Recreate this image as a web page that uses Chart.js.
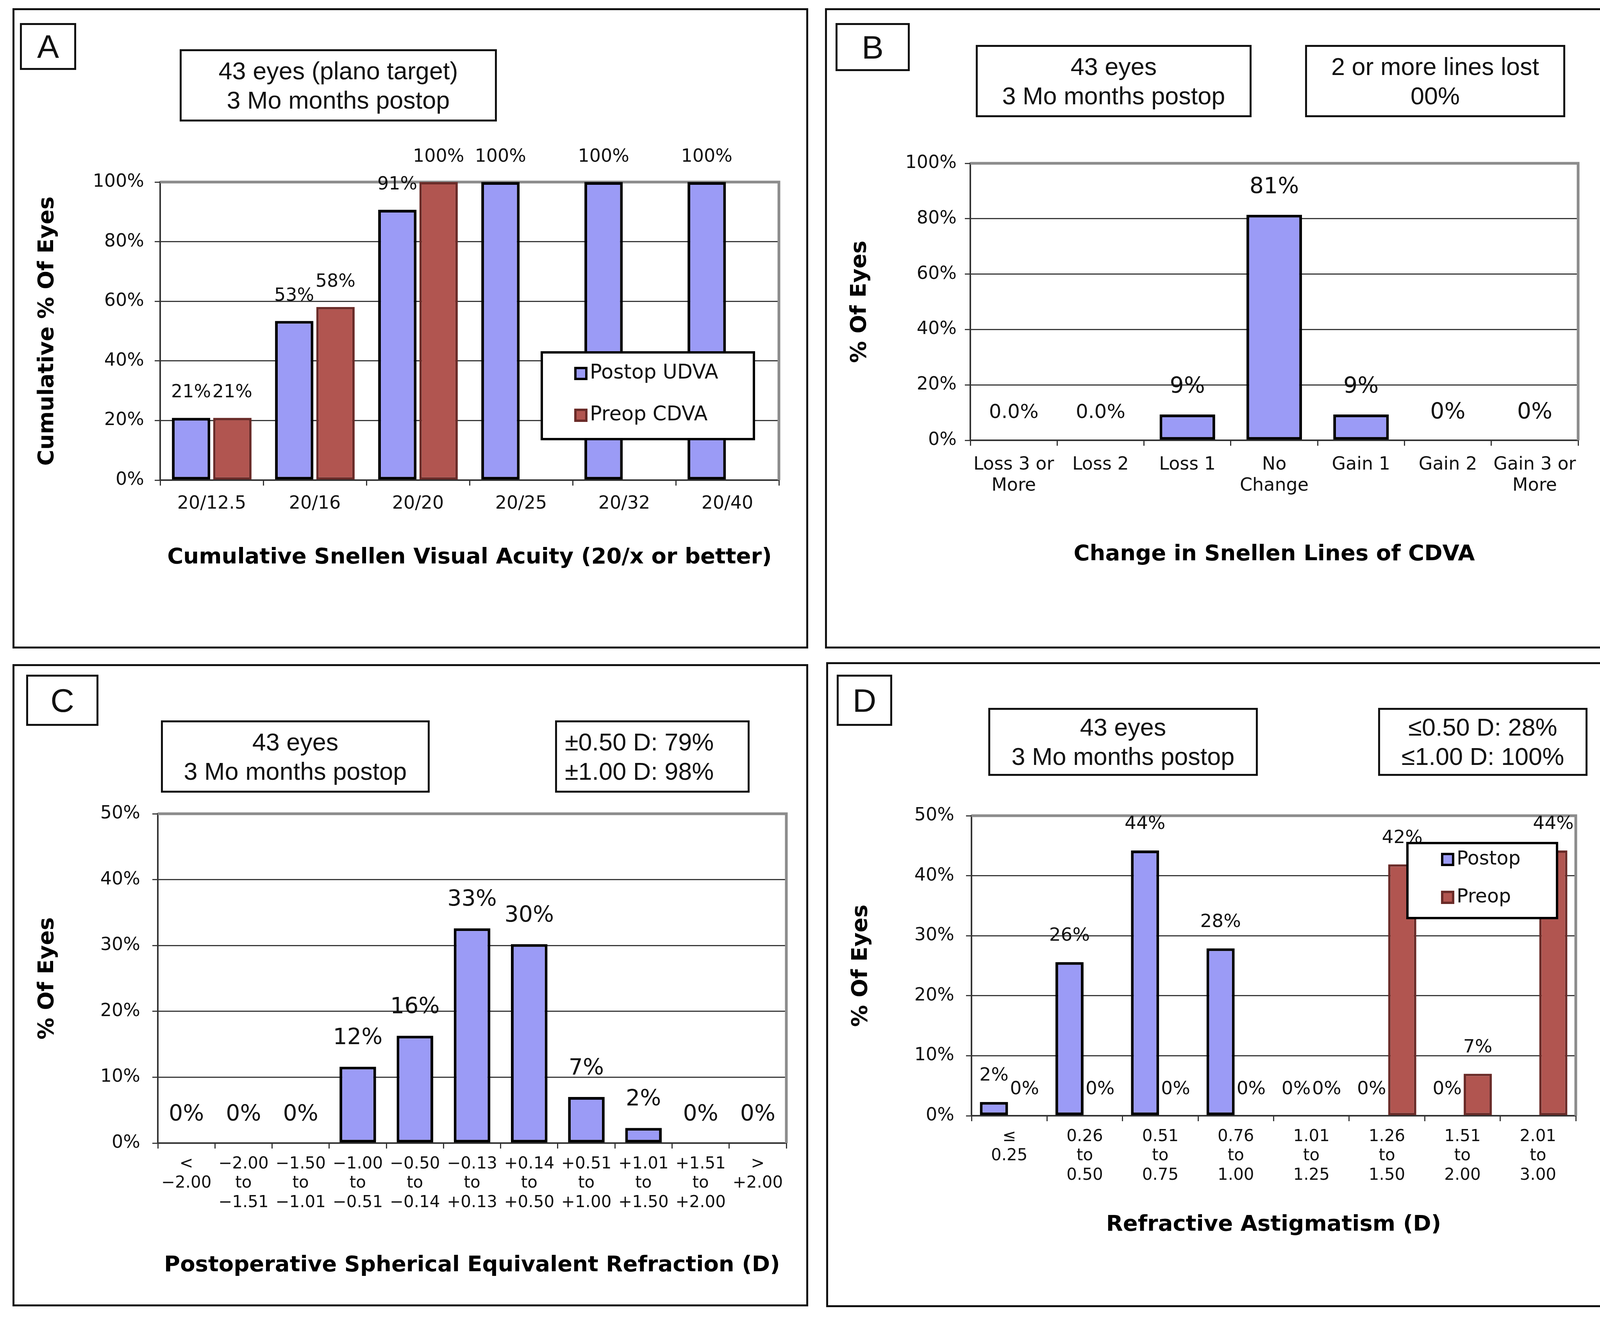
<!DOCTYPE html>
<html><head><meta charset="utf-8">
<script src="https://cdn.jsdelivr.net/npm/chart.js@4.4.1/dist/chart.umd.min.js"></script>
<style>
html,body{margin:0;padding:0;background:#fff;}
#page{position:relative;width:4198px;height:3384px;background:#fff;overflow:hidden;}
.panel{position:absolute;border:5px solid #111;box-sizing:border-box;}
canvas{position:absolute;}
.box{position:absolute;border:5px solid #111;box-sizing:border-box;background:#fff;color:#111;
 font-family:"Liberation Sans",Arial,sans-serif;font-size:63px;line-height:75px;text-align:center;
 display:flex;flex-direction:column;justify-content:center;z-index:5;}
.letter{font-size:84px;line-height:84px;}
.left{text-align:left;padding-left:20px;}
</style>
</head><body>
<div id="page">
  <div class="panel" style="left:32px;top:21px;width:2037px;height:1639px"></div>
  <div class="panel" style="left:2112px;top:21px;width:2045px;height:1639px"></div>
  <div class="panel" style="left:32px;top:1700px;width:2037px;height:1644px"></div>
  <div class="panel" style="left:2115px;top:1695px;width:2048px;height:1651px"></div>

  <canvas id="cA" width="2037" height="1639" style="left:32px;top:21px;width:2037px;height:1639px"></canvas>
  <canvas id="cB" width="2045" height="1639" style="left:2112px;top:21px;width:2045px;height:1639px"></canvas>
  <canvas id="cC" width="2037" height="1644" style="left:32px;top:1700px;width:2037px;height:1644px"></canvas>
  <canvas id="cD" width="2048" height="1651" style="left:2115px;top:1695px;width:2048px;height:1651px"></canvas>

  <div class="box letter" style="left:51px;top:59px;width:144px;height:120px">A</div>
  <div class="box letter" style="left:2139px;top:59px;width:190px;height:123px">B</div>
  <div class="box letter" style="left:67px;top:1727px;width:185px;height:131px">C</div>
  <div class="box letter" style="left:2142px;top:1727px;width:142px;height:131px">D</div>

  <div class="box" style="left:460px;top:126px;width:812px;height:185px"><div>43 eyes (plano target)</div><div>3 Mo months postop</div></div>
  <div class="box" style="left:2498px;top:115px;width:706px;height:185px"><div>43 eyes</div><div>3 Mo months postop</div></div>
  <div class="box" style="left:3341px;top:115px;width:666px;height:185px"><div>2 or more lines lost</div><div>00%</div></div>
  <div class="box" style="left:412px;top:1844px;width:688px;height:185px"><div>43 eyes</div><div>3 Mo months postop</div></div>
  <div class="box left" style="left:1421px;top:1844px;width:498px;height:185px"><div>±0.50 D: 79%</div><div>±1.00 D: 98%</div></div>
  <div class="box" style="left:2530px;top:1812px;width:690px;height:174px"><div>43 eyes</div><div>3 Mo months postop</div></div>
  <div class="box" style="left:3528px;top:1812px;width:536px;height:174px"><div>≤0.50 D: 28%</div><div>≤1.00 D: 100%</div></div>
</div>
<script>
// ---------- DATA ----------
// Panel A
const catA = ['20/12.5', '20/16', '20/20', '20/25', '20/32', '20/40'];
const postopUDVA = [20.9, 53.4, 90.7, 100, 100, 100];
const preopCDVA = [20.9, 58.1, 100, null, null, null];
const yTicksA = [0, 20, 40, 60, 80, 100];
// Panel B
const catB = [['Loss 3 or', 'More'], 'Loss 2', 'Loss 1', ['No', 'Change'], 'Gain 1', 'Gain 2', ['Gain 3 or', 'More']];
const changeB = [0, 0, 9.3, 81.4, 9.3, 0, 0];
const changeLabelsB = ['0.0%', '0.0%', '9%', '81%', '9%', '0%', '0%'];
const yTicksB = [0, 20, 40, 60, 80, 100];
// Panel C
const catC = [['<', '−2.00'], ['−2.00', 'to', '−1.51'], ['−1.50', 'to', '−1.01'], ['−1.00', 'to', '−0.51'],
  ['−0.50', 'to', '−0.14'], ['−0.13', 'to', '+0.13'], ['+0.14', 'to', '+0.50'], ['+0.51', 'to', '+1.00'],
  ['+1.01', 'to', '+1.50'], ['+1.51', 'to', '+2.00'], ['>', '+2.00']];
const seC = [0, 0, 0, 11.6, 16.3, 32.6, 30.2, 7.0, 2.3, 0, 0];
const yTicksC = [0, 10, 20, 30, 40, 50];
// Panel D
const catD = [['≤', '0.25'], ['0.26', 'to', '0.50'], ['0.51', 'to', '0.75'], ['0.76', 'to', '1.00'],
  ['1.01', 'to', '1.25'], ['1.26', 'to', '1.50'], ['1.51', 'to', '2.00'], ['2.01', 'to', '3.00']];
const postopCyl = [2.3, 25.6, 44.2, 27.9, 0, 0, 0, null];
const preopCyl = [0, 0, 0, 0, 0, 41.9, 7.0, 44.2];
const yTicksD = [0, 10, 20, 30, 40, 50];

// ---------- STYLE ----------
const BLUE = '#9b9bf6', BLUE_B = '#000000', RED = '#b15550', RED_B = '#6a2b28';
Chart.defaults.font.family = '"DejaVu Sans", Verdana, sans-serif';
Chart.defaults.color = '#111';
Chart.defaults.animation = false;

const barLabels = {
  id: 'barLabels',
  afterDatasetsDraw(chart, args, o) {
    const ctx = chart.ctx;
    ctx.save();
    ctx.fillStyle = '#111';
    ctx.textAlign = 'center';
    ctx.textBaseline = 'middle';
    chart.data.datasets.forEach((ds, di) => {
      const meta = chart.getDatasetMeta(di);
      meta.data.forEach((el, i) => {
        const v = ds.data[i];
        if (v === null || v === undefined) return;
        const txt = o.texts && o.texts[di] ? o.texts[di][i] : Math.round(v) + '%';
        ctx.font = (o.fonts && o.fonts[di] && o.fonts[di][i]) || o.font;
        ctx.fillText(txt, el.x, el.y - o.offset);
      });
    });
    ctx.restore();
  }
};
const frame = {
  id: 'frame',
  beforeDatasetsDraw(chart) {
    const a = chart.chartArea, ctx = chart.ctx;
    ctx.save();
    ctx.strokeStyle = '#8c8c8c';
    ctx.lineWidth = 7;
    ctx.beginPath();
    ctx.moveTo(a.left, a.top);
    ctx.lineTo(a.right, a.top);
    ctx.lineTo(a.right, a.bottom);
    ctx.stroke();
    ctx.restore();
  }
};
const boxLegend = {
  id: 'boxLegend',
  afterDraw(chart, args, o) {
    if (!o.box) return;
    const ctx = chart.ctx;
    const [x, y, w, h] = o.box;
    ctx.save();
    ctx.fillStyle = '#fff';
    ctx.fillRect(x, y, w, h);
    ctx.strokeStyle = '#000';
    ctx.lineWidth = 6;
    ctx.strokeRect(x, y, w, h);
    ctx.font = o.font;
    ctx.textAlign = 'left';
    ctx.textBaseline = 'middle';
    chart.data.datasets.forEach((ds, i) => {
      const cy = o.rows[i];
      ctx.fillStyle = ds.backgroundColor;
      ctx.fillRect(o.sqX, cy - o.sq / 2, o.sq, o.sq);
      ctx.strokeStyle = ds.borderColor;
      ctx.lineWidth = 6;
      ctx.strokeRect(o.sqX + 3, cy - o.sq / 2 + 3, o.sq - 6, o.sq - 6);
      ctx.fillStyle = '#111';
      ctx.fillText(ds.label, o.textX, cy);
    });
    ctx.restore();
  }
};

function makeChart(id, cfg) {
  const datasets = cfg.series.map(s => ({
    label: s.label, data: s.data,
    backgroundColor: s.color, borderColor: s.border, borderWidth: s.bw,
    borderSkipped: false,
    categoryPercentage: cfg.catPct, barPercentage: cfg.barPct
  }));
  return new Chart(document.getElementById(id), {
    type: 'bar',
    data: { labels: cfg.labels, datasets },
    plugins: [frame, barLabels, boxLegend],
    options: {
      responsive: false,
      devicePixelRatio: 1,
      layout: { padding: { top: cfg.padTop, right: cfg.padRight, left: 0, bottom: 0 } },
      plugins: {
        legend: { display: false },
        tooltip: { enabled: false },
        barLabels: { font: cfg.labelFont, offset: cfg.labelOffset, texts: cfg.labelTexts, fonts: cfg.labelFonts },
        boxLegend: cfg.legend || {}
      },
      scales: {
        x: {
          grid: { display: true, drawOnChartArea: false, drawTicks: true, tickLength: 14, color: '#333', lineWidth: 3, offset: true },
          border: { display: true, color: '#333', width: 4 },
          ticks: { font: { size: cfg.xTickSize, lineHeight: cfg.xTickLH }, padding: cfg.xTickPad, color: '#111', maxRotation: 0, autoSkip: false },
          title: { display: true, text: cfg.xTitle, font: { size: 56, weight: 'bold', lineHeight: 1.2 }, color: '#000', padding: { top: 0, bottom: cfg.xTitlePad } },
          afterFit(s) { s.height = cfg.xH; s.paddingLeft = 0; s.paddingRight = 0; s.paddingTop = 0; s.paddingBottom = 0; }
        },
        y: {
          min: cfg.yTicks[0], max: cfg.yTicks[cfg.yTicks.length - 1],
          afterBuildTicks(s) { s.ticks = cfg.yTicks.map(v => ({ value: v })); },
          grid: { color: '#3a3a3a', lineWidth: 3, tickLength: 14 },
          border: { display: true, color: '#333', width: 4 },
          ticks: { font: { size: 46 }, padding: cfg.yTickPad, color: '#111', callback: v => v + '%' },
          title: { display: true, text: cfg.yTitle, font: { size: 56, weight: 'bold', lineHeight: 1.2 }, color: '#000', padding: { top: 56, bottom: 0 } },
          afterFit(s) { s.width = cfg.yW; s.paddingLeft = 0; s.paddingRight = 0; s.paddingTop = 0; s.paddingBottom = 0; }
        }
      }
    }
  });
}

makeChart('cA', {
  labels: catA,
  series: [
    { label: 'Postop UDVA', data: postopUDVA, color: BLUE, border: BLUE_B, bw: 7 },
    { label: 'Preop CDVA', data: preopCDVA, color: RED, border: RED_B, bw: 6 }
  ],
  catPct: 0.8, barPct: 0.93,
  padTop: 445, padRight: 75, yW: 378, xH: 431,
  xTickSize: 46, xTickLH: 1.2, xTickPad: 19, yTickPad: 27, xTitlePad: 199,
  yTicks: yTicksA,
  xTitle: 'Cumulative Snellen Visual Acuity (20/x or better)', yTitle: 'Cumulative % Of Eyes',
  labelFont: '46px "DejaVu Sans"', labelOffset: 64,
  legend: { box: [1355, 881, 543, 222], rows: [935, 1042], sqX: 1438, sq: 34, textX: 1478, font: '51px "DejaVu Sans"' }
});

makeChart('cB', {
  labels: catB,
  series: [{ label: 'Postop', data: changeB, color: BLUE, border: BLUE_B, bw: 7 }],
  catPct: 0.64, barPct: 1,
  padTop: 397, padRight: 117, yW: 372, xH: 533,
  xTickSize: 46, xTickLH: 1.17, xTickPad: 22, yTickPad: 21, xTitlePad: 207,
  yTicks: yTicksB,
  xTitle: 'Change in Snellen Lines of CDVA', yTitle: '% Of Eyes',
  labelFont: '57px "DejaVu Sans"', labelOffset: 70,
  labelTexts: [changeLabelsB],
  labelFonts: [['50px "DejaVu Sans"', '50px "DejaVu Sans"']]
});

makeChart('cC', {
  labels: catC,
  series: [{ label: 'Postop', data: seC, color: BLUE, border: BLUE_B, bw: 7 }],
  catPct: 0.64, barPct: 1,
  padTop: 383, padRight: 56, yW: 372, xH: 418,
  xTickSize: 42, xTickLH: 1.18, xTickPad: 15, yTickPad: 31, xTitlePad: 71,
  yTicks: yTicksC,
  xTitle: 'Postoperative Spherical Equivalent Refraction (D)', yTitle: '% Of Eyes',
  labelFont: '57px "DejaVu Sans"', labelOffset: 72
});

makeChart('cD', {
  labels: catD,
  series: [
    { label: 'Postop', data: postopCyl, color: BLUE, border: BLUE_B, bw: 7 },
    { label: 'Preop', data: preopCyl, color: RED, border: RED_B, bw: 6 }
  ],
  catPct: 0.81, barPct: 0.92,
  padTop: 393, padRight: 129, yW: 372, xH: 490,
  xTickSize: 42, xTickLH: 1.18, xTickPad: 15, yTickPad: 30, xTitlePad: 177,
  yTicks: yTicksD,
  xTitle: 'Refractive Astigmatism (D)', yTitle: '% Of Eyes',
  labelFont: '47px "DejaVu Sans"', labelOffset: 67,
  legend: { box: [1488, 463, 383, 192], rows: [505, 602], sqX: 1574, sq: 34, textX: 1614, font: '49px "DejaVu Sans"' }
});
</script>
</body></html>
